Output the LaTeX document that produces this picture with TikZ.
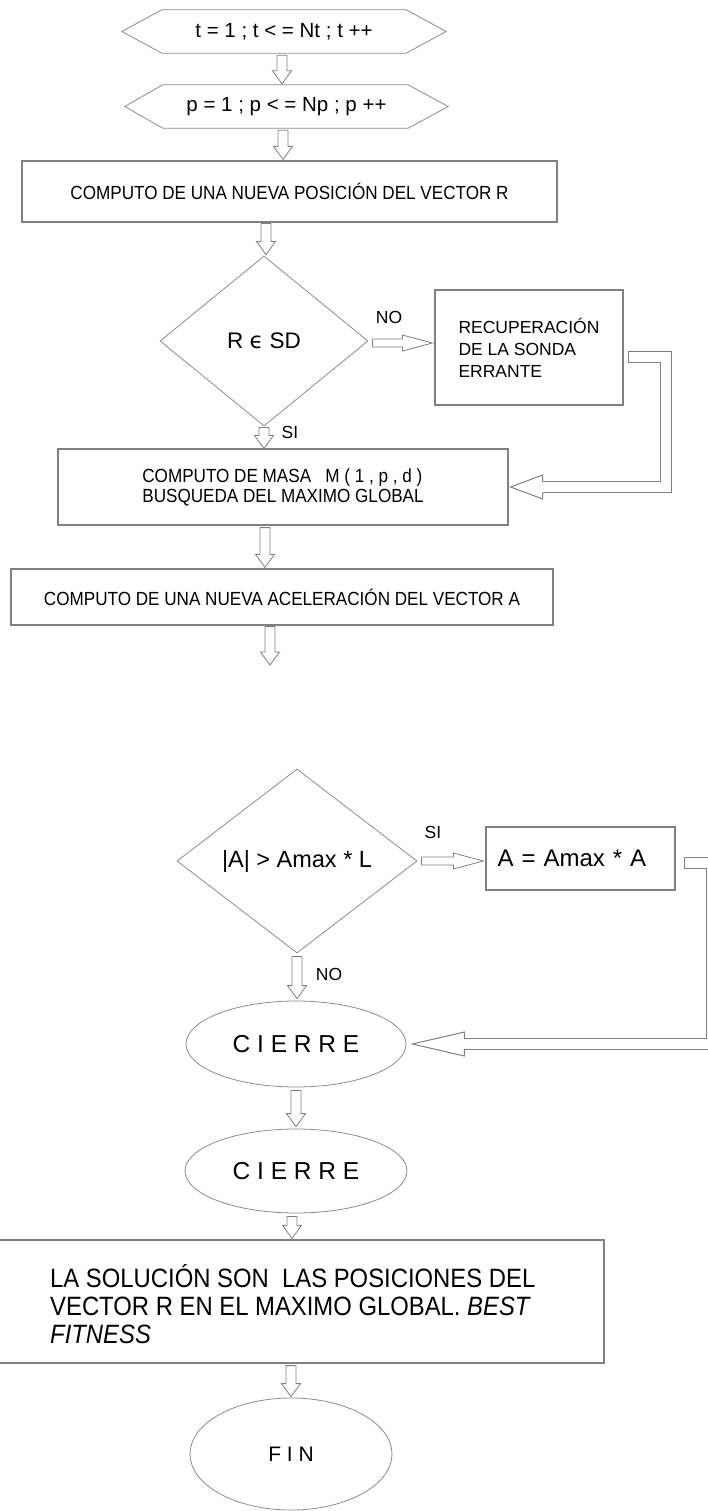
\documentclass[tikz,border=0pt]{standalone}
\usepackage{fontspec}
\setmainfont{Liberation Sans}
\newfontfamily\nar[FakeStretch=0.9]{Liberation Sans}
\newfontfamily\dvs{DejaVu Sans}
\usetikzlibrary{shapes.geometric,calc}
\newcommand\fz[2]{\fontsize{#1}{#2}\selectfont}
\newcommand\vblk[2]{\draw[blk] let \p1=(#1), \p2=(#2) in (\x1-5pt,\y1) -- (\x1-5pt,\y2+13pt) -- (\x1-9.5pt,\y2+13pt) -- (\x1,\y2) -- (\x1+9.5pt,\y2+13pt) -- (\x1+5pt,\y2+13pt) -- (\x1+5pt,\y1) -- cycle;}
\newcommand\hblk[2]{\draw[blk] let \p1=(#1), \p2=(#2) in (\x1,\y1+4pt) -- (\x2-30pt,\y1+4pt) -- (\x2-30pt,\y1+8pt) -- (\x2,\y1) -- (\x2-30pt,\y1-8pt) -- (\x2-30pt,\y1-4pt) -- (\x1,\y1-4pt) -- cycle;}
\begin{document}
\begin{tikzpicture}[x=1pt,y=-1pt,
  lc/.style={draw=black!50, line width=1pt},
  bx/.style={draw=black!50, line width=1.2pt, inner sep=0pt, align=center},
  shp/.style={draw=black!45, line width=0.8pt, inner sep=0pt},
  blk/.style={draw=black!50, line width=0.8pt, fill=white},
  dbl/.style={draw=black!50, line width=1pt, double=white, double distance=10pt},
  lbl/.style={font=\fz{17.5}{20}, inner sep=0pt}]
\useasboundingbox (0,0) rectangle (707,1511);
\fill[white] (0,0) rectangle (707,1511);

% hexagons
\node[minimum width=324pt, minimum height=43pt, inner sep=0pt, font=\fz{20.5}{24}] (hex1) at (284,31.5) {t = 1 ; t < = Nt ; t ++};
\draw[shp] (hex1.west) -- ([xshift=40pt]hex1.north west) -- ([xshift=-40pt]hex1.north east) -- (hex1.east) -- ([xshift=-40pt]hex1.south east) -- ([xshift=40pt]hex1.south west) -- cycle;
\node[minimum width=323pt, minimum height=43pt, inner sep=0pt, font=\fz{20.5}{24}] (hex2) at (286.5,106.5) {p = 1 ; p < = Np ; p ++};
\draw[shp] (hex2.west) -- ([xshift=38pt]hex2.north west) -- ([xshift=-40pt]hex2.north east) -- (hex2.east) -- ([xshift=-40pt]hex2.south east) -- ([xshift=38pt]hex2.south west) -- cycle;

\node[bx, minimum width=535pt, minimum height=61pt, font=\nar\fz{19}{22}] (box1) at (289.5,191.5) {COMPUTO DE UNA NUEVA POSICIÓN DEL VECTOR R};
\node[shp, diamond, minimum width=208pt, minimum height=170pt, font=\fz{22.5}{26}] (d1) at (264,341) {R {\dvs ϵ} SD};
\node[bx, minimum width=188pt, minimum height=115pt, align=left, font=\fz{17.5}{22}] (recup) at (529,347.5) {RECUPERACIÓN\\DE LA SONDA\\ERRANTE};
\node[bx, minimum width=450pt, minimum height=76pt, align=left, font=\nar\fz{19}{20}] (masa) at (283,487) {COMPUTO DE MASA\ \ \ M ( 1 , p , d )\\BUSQUEDA DEL MAXIMO GLOBAL};
\node[bx, minimum width=542pt, minimum height=56pt, font=\nar\fz{19}{22}] (box3) at (282,597) {COMPUTO DE UNA NUEVA ACELERACIÓN DEL VECTOR A};
\coordinate (e1) at (270,665);

\node[shp, diamond, minimum width=240pt, minimum height=184pt, font=\fz{23.5}{27}] (d2) at (297,861) {|A| > Amax * L};
\node[bx, minimum width=189pt, minimum height=63pt, text width=166pt, align=left, font=\fz{24}{28}] (boxA) at (580.5,858.5) {A = Amax * A};
\node[shp, ellipse, minimum width=220pt, minimum height=86pt, font=\fz{24.5}{28}] (c1) at (296,1044) {C I E R R E};
\node[shp, ellipse, minimum width=222pt, minimum height=84pt, font=\fz{24.5}{28}] (c2) at (296,1171) {C I E R R E};
\node[bx, minimum width=606pt, minimum height=123pt] (big) at (301,1301.5) {};
\node[anchor=west, align=left, font=\nar\fz{26.5}{28}, inner sep=0pt] (bigt) at (50,1304) {LA SOLUCIÓN SON\ \ LAS POSICIONES DEL\\VECTOR R EN EL MAXIMO GLOBAL. \textit{BEST}\\\textit{FITNESS}};
\node[shp, ellipse, minimum width=202pt, minimum height=112pt, font=\fz{21}{24}] (fin) at (291,1454) {\raisebox{-8pt}{F I N}};

% labels
\node[lbl] (no1) at (389,317) {NO};
\node[lbl] (si1) at (290,432) {SI};
\node[lbl] (si2) at (433,832) {SI};
\node[lbl] (no2) at (329,974) {NO};

% block arrows
\vblk{[xshift=-2pt,yshift=-2pt]hex1.south}{[yshift=1pt]hex2.north}
\vblk{[xshift=-3.5pt,yshift=-2pt]hex2.south}{[yshift=1pt]box1.north}
\vblk{[xshift=-23.5pt,yshift=-1pt]box1.south}{[yshift=1pt]d1.north}
\vblk{[yshift=-1pt]d1.south}{masa.north}
\vblk{[xshift=-18pt,yshift=-2pt]masa.south}{[yshift=1pt]box3.north}
\vblk{[xshift=-12pt,yshift=-1pt]box3.south}{e1}
\vblk{[yshift=-3pt]d2.south}{[yshift=2pt]c1.north}
\vblk{[yshift=-3pt]c1.south}{[yshift=2pt]c2.north}
\vblk{[xshift=-4pt,yshift=-3pt]c2.south}{[yshift=1pt]big.north}
\vblk{[xshift=-10pt,yshift=-2pt]big.south}{[yshift=1pt]fin.north}
\hblk{[xshift=4pt,yshift=-2pt]d1.east}{[xshift=-2pt]recup.west}
\hblk{[xshift=4pt]d2.east}{[xshift=-2pt]boxA.west}

% loop 1
\draw[dbl] ([xshift=4pt,yshift=-9pt]recup.east) -- ++(38,0) |- ([xshift=34pt]masa.east);
\draw[lc] ([xshift=4.5pt,yshift=-3pt]recup.east) -- ([xshift=4.5pt,yshift=-15pt]recup.east);
\draw[lc] ([xshift=34pt,yshift=5.5pt]masa.east) -- ([xshift=34pt,yshift=12pt]masa.east) -- ([xshift=2pt]masa.east) -- ([xshift=34pt,yshift=-12pt]masa.east) -- ([xshift=34pt,yshift=-5.5pt]masa.east);

% loop 2
\draw[dbl] ([xshift=8pt,yshift=-4.5pt]boxA.east) -- ++(28.5,0) |- ([xshift=58pt]c1.east);
\draw[lc] ([xshift=8.5pt,yshift=1.5pt]boxA.east) -- ([xshift=8.5pt,yshift=-10.5pt]boxA.east);
\draw[lc] ([xshift=58pt,yshift=5.5pt]c1.east) -- ([xshift=58pt,yshift=12pt]c1.east) -- ([xshift=6pt]c1.east) -- ([xshift=58pt,yshift=-12pt]c1.east) -- ([xshift=58pt,yshift=-5.5pt]c1.east);
\end{tikzpicture}
\end{document}
